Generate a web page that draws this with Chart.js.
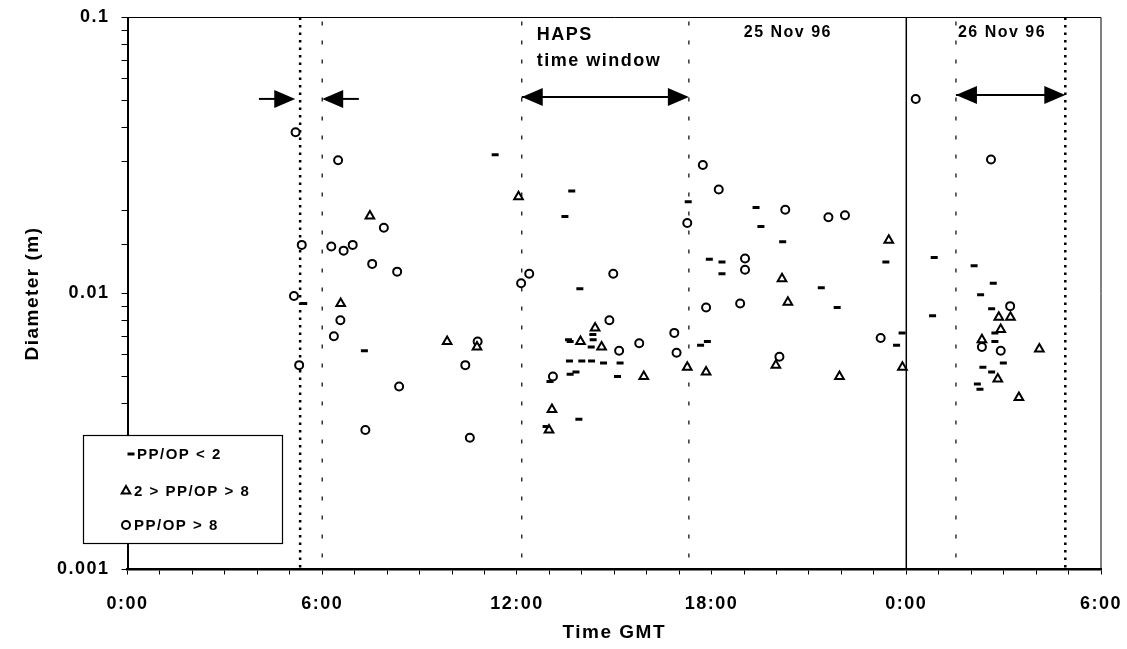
<!DOCTYPE html>
<html>
<head>
<meta charset="utf-8">
<script src="https://cdn.jsdelivr.net/npm/chart.js@4.4.1/dist/chart.umd.min.js"></script>
<style>
  body { margin: 0; background: #fff; }
  #wrap { width: 1127px; height: 649px; }
</style>
</head>
<body>
<div id="wrap"><canvas id="diam" width="1127" height="649"></canvas></div>
<script>
// hours counted from 0:00 GMT 25 Nov 96, diameters in m
const lowHours = [11.33, 13.69, 13.48, 17.28, 19.37, 19.52, 20.19, 23.37, 17.93, 18.32, 18.32, 21.38, 13.94,
  24.86, 26.09, 26.68, 26.29, 5.43, 7.30, 21.87, 14.34, 13.59, 13.64, 14.35, 14.29, 17.66, 17.87, 13.62,
  14.00, 14.30, 14.67, 15.18, 13.64, 13.82, 15.10, 13.02, 13.91, 12.90, 23.87, 23.70, 24.81, 26.63, 26.73,
  26.73, 26.99, 26.36, 26.63, 26.19, 26.27];
const lowDiam = [0.0318, 0.0235, 0.0190, 0.0215, 0.0205, 0.0175, 0.0154, 0.0130, 0.0133, 0.0130, 0.0118, 0.0105, 0.0104,
  0.0135, 0.0126, 0.0109, 0.0099, 0.0092, 0.0062, 0.0089, 0.0071, 0.0068, 0.0067, 0.0068, 0.0064, 0.0065, 0.0067, 0.0057,
  0.0057, 0.0057, 0.0056, 0.0056, 0.0051, 0.0052, 0.0050, 0.0048, 0.0035, 0.0033, 0.0072, 0.0065, 0.0083, 0.0088, 0.0072,
  0.0067, 0.0056, 0.0054, 0.0052, 0.0047, 0.0045];

const midHours = [12.05, 7.47, 6.57, 9.85, 10.77, 23.46, 20.17, 20.35, 14.41, 13.96, 14.61, 19.98, 17.25, 17.83,
  15.91, 13.08, 12.99, 21.94, 23.88, 26.85, 27.21, 26.91, 26.33, 28.10, 26.82, 27.47];
const midDiam = [0.0224, 0.0191, 0.0092, 0.0067, 0.0064, 0.0156, 0.0113, 0.0093, 0.0075, 0.0067, 0.0064, 0.0055, 0.0054, 0.0052,
  0.0050, 0.0038, 0.0032, 0.0050, 0.0054, 0.0082, 0.0082, 0.0074, 0.0068, 0.0063, 0.0049, 0.0042];

const highHours = [5.18, 6.49, 7.90, 5.37, 6.28, 6.66, 6.94, 7.54, 8.31, 12.13, 12.38, 5.13, 17.73, 18.22, 17.25,
  20.27, 21.60, 22.11, 19.03, 19.03, 14.97, 24.29, 26.61, 6.56, 6.36, 10.79, 5.29, 10.41, 8.37, 7.33, 10.55,
  17.83, 18.88, 14.85, 16.85, 15.77, 15.15, 16.92, 20.09, 13.11, 23.21, 27.20, 26.33, 26.91];
const highDiam = [0.0384, 0.0304, 0.0173, 0.0150, 0.0148, 0.0143, 0.0150, 0.0128, 0.0120, 0.0109, 0.0118, 0.0098, 0.0292, 0.0238, 0.0180,
  0.0201, 0.0189, 0.0192, 0.0134, 0.0122, 0.0118, 0.0507, 0.0306, 0.0080, 0.0070, 0.0067, 0.0055, 0.0055, 0.0046, 0.0032, 0.0030,
  0.0089, 0.0092, 0.0080, 0.0072, 0.0066, 0.0062, 0.0061, 0.0059, 0.0050, 0.0069, 0.0090, 0.0064, 0.0062];

const seriesNames = ['PP/OP < 2', '2 > PP/OP > 8', 'PP/OP > 8'];
const xTickLabels = ['0:00', '6:00', '12:00', '18:00', '0:00', '6:00'];
const yTickLabels = ['0.001', '0.01', '0.1'];

// vertical marker lines, in hours
const dottedLines = [5.32, 28.9];
const dashedLines = [6.0, 12.15, 17.3, 25.53];
const solidLines = [24];

// arrows: start hour, tip hour, diameter level, two heads or one
const arrowFrom = [4.05, 7.13, 12.15, 25.53];
const arrowTo = [5.17, 6.0, 17.3, 28.9];
const arrowAt = [0.0507, 0.0507, 0.0515, 0.0524];
const arrowBoth = [false, false, true, true];

const noteText = ['HAPS', 'time window', '25 Nov 96', '26 Nov 96'];
const noteHour = [12.61, 12.61, 20.35, 26.95];
const noteDiam = [0.0864, 0.0696, 0.0879, 0.0879];
const noteAlign = ['left', 'left', 'center', 'center'];
const noteSize = [18, 18, 16, 16];

const FONT = '"Liberation Sans", Arial, Helvetica, sans-serif';

function pairs(xs, ys) {
    return xs.map((x, i) => ({ x: x, y: ys[i] }));
}

function setSpacing(chart) {
    chart.ctx.letterSpacing = '1.5px';
}

function drawHead(ctx, tip, y, dir) {
    ctx.beginPath();
    ctx.moveTo(tip, y);
    ctx.lineTo(tip - dir * 21, y - 9);
    ctx.lineTo(tip - dir * 21, y + 9);
    ctx.closePath();
    ctx.fill();
}

const extras = {
    id: 'extras',
    beforeLayout: setSpacing,
    beforeDraw: setSpacing,
    beforeDatasetsDraw(chart) {
        const { ctx, chartArea: a, scales: { x } } = chart;
        ctx.save();
        ctx.strokeStyle = '#000';
        ctx.lineWidth = 2.5;
        ctx.setLineDash([2.5, 5]);
        dottedLines.forEach(h => {
            const px = x.getPixelForValue(h);
            ctx.beginPath(); ctx.moveTo(px, a.top); ctx.lineTo(px, a.bottom); ctx.stroke();
        });
        ctx.lineWidth = 1.2;
        ctx.setLineDash([4, 15]);
        dashedLines.forEach(h => {
            const px = x.getPixelForValue(h);
            ctx.beginPath(); ctx.moveTo(px, a.top + 4); ctx.lineTo(px, a.bottom); ctx.stroke();
        });
        ctx.setLineDash([]);
        ctx.lineWidth = 1.5;
        solidLines.forEach(h => {
            const px = x.getPixelForValue(h);
            ctx.beginPath(); ctx.moveTo(px, a.top); ctx.lineTo(px, a.bottom); ctx.stroke();
        });
        ctx.restore();
    },
    afterDraw(chart) {
        const { ctx, chartArea: a, scales: { x, y } } = chart;
        ctx.save();
        // thin frame on top and right
        ctx.strokeStyle = '#000';
        ctx.lineWidth = 1;
        ctx.beginPath();
        ctx.moveTo(a.left, a.top); ctx.lineTo(a.right, a.top); ctx.lineTo(a.right, a.bottom);
        ctx.stroke();

        // arrows
        ctx.fillStyle = '#000';
        ctx.lineWidth = 2;
        arrowFrom.forEach((h, i) => {
            const x1 = x.getPixelForValue(h);
            const x2 = x.getPixelForValue(arrowTo[i]);
            const py = y.getPixelForValue(arrowAt[i]);
            const dir = x2 > x1 ? 1 : -1;
            ctx.beginPath(); ctx.moveTo(x1, py); ctx.lineTo(x2 - dir * 10, py); ctx.stroke();
            drawHead(ctx, x2, py, dir);
            if (arrowBoth[i]) drawHead(ctx, x1, py, -dir);
        });

        // text notes
        ctx.textBaseline = 'middle';
        noteText.forEach((t, i) => {
            ctx.font = 'bold ' + noteSize[i] + 'px ' + FONT;
            ctx.textAlign = noteAlign[i];
            ctx.fillText(t, x.getPixelForValue(noteHour[i]), y.getPixelForValue(noteDiam[i]));
        });

        // legend box
        const bx = 83.5, by = 435.5, bw = 199, bh = 108;
        ctx.fillStyle = '#fff';
        ctx.fillRect(bx, by, bw, bh);
        ctx.lineWidth = 1.2;
        ctx.strokeRect(bx, by, bw, bh);
        const rows = [454, 491, 525];
        ctx.font = 'bold 15px ' + FONT;
        ctx.textAlign = 'left';
        chart.data.datasets.forEach((ds, i) => {
            const ry = rows[i];
            const mx = i === 0 ? 131 : 126;
            ctx.strokeStyle = '#000';
            ctx.fillStyle = '#fff';
            ctx.lineWidth = ds.pointBorderWidth;
            ctx.beginPath();
            if (ds.pointStyle === 'line') {
                ctx.moveTo(mx - 3.5, ry); ctx.lineTo(mx + 3.5, ry);
            } else if (ds.pointStyle === 'triangle') {
                const r = ds.pointRadius;
                ctx.moveTo(mx, ry - r);
                ctx.lineTo(mx + r * 0.866, ry + r / 2);
                ctx.lineTo(mx - r * 0.866, ry + r / 2);
                ctx.closePath();
                ctx.fill();
            } else {
                ctx.arc(mx, ry, ds.pointRadius, 0, Math.PI * 2);
                ctx.fill();
            }
            ctx.stroke();
            ctx.fillStyle = '#000';
            ctx.fillText(ds.label, i === 0 ? 137 : 134, ry + 1);
        });
        ctx.restore();
    }
};

const tickFont = { family: FONT, size: 18, weight: 'bold' };

new Chart(document.getElementById('diam'), {
    type: 'scatter',
    data: {
        datasets: [
            {
                label: seriesNames[0],
                data: pairs(lowHours, lowDiam),
                pointStyle: 'line',
                pointRadius: 3.5,
                pointBorderWidth: 3,
                borderColor: '#000',
                backgroundColor: '#fff'
            },
            {
                label: seriesNames[1],
                data: pairs(midHours, midDiam),
                pointStyle: 'triangle',
                pointRadius: 5,
                pointBorderWidth: 2,
                borderColor: '#000',
                backgroundColor: '#fff'
            },
            {
                label: seriesNames[2],
                data: pairs(highHours, highDiam),
                pointStyle: 'circle',
                pointRadius: 4,
                pointBorderWidth: 2,
                borderColor: '#000',
                backgroundColor: '#fff'
            }
        ]
    },
    options: {
        responsive: false,
        devicePixelRatio: 1,
        animation: false,
        events: [],
        layout: { padding: { left: 0, top: 17.5, right: 26, bottom: 0 } },
        plugins: { legend: { display: false }, tooltip: { enabled: false } },
        scales: {
            x: {
                type: 'linear',
                min: 0,
                max: 30,
                afterFit: s => { s.height = 79.5; s.paddingLeft = 0; s.paddingRight = 0; },
                grid: { drawOnChartArea: false, tickLength: 5, color: '#000' },
                border: { color: '#000', width: 2.5 },
                ticks: {
                    stepSize: 1,
                    autoSkip: false,
                    maxRotation: 0,
                    padding: 19,
                    color: '#000',
                    font: tickFont,
                    callback: v => (v % 6 === 0 ? xTickLabels[v / 6] : '')
                },
                title: {
                    display: true,
                    text: 'Time GMT',
                    color: '#000',
                    font: { family: FONT, size: 19, weight: 'bold' },
                    padding: { top: 0, bottom: 5 }
                }
            },
            y: {
                type: 'logarithmic',
                min: 0.001,
                max: 0.1,
                afterFit: s => { s.width = 127.5; s.paddingTop = 0; s.paddingBottom = 0; },
                grid: { drawOnChartArea: false, tickLength: 6, color: '#000' },
                border: { color: '#000', width: 2 },
                ticks: {
                    autoSkip: false,
                    padding: 12,
                    color: '#000',
                    font: tickFont,
                    callback: v => {
                        const l = Math.log10(v);
                        return Math.abs(l - Math.round(l)) < 1e-6 ? yTickLabels[Math.round(l) + 3] : '';
                    }
                },
                title: {
                    display: true,
                    text: 'Diameter (m)',
                    color: '#000',
                    font: { family: FONT, size: 19, weight: 'bold' },
                    padding: { top: 21, bottom: 0 }
                }
            }
        }
    },
    plugins: [extras]
});
</script>
</body>
</html>
